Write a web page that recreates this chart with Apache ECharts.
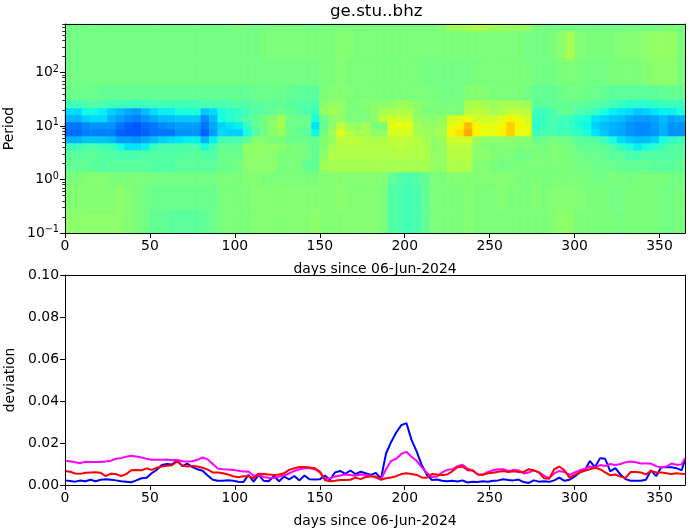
<!DOCTYPE html>
<html><head><meta charset="utf-8">
<style>html,body{margin:0;padding:0;background:#fff}#c{width:690px;height:531px}</style>
<script src="https://cdn.jsdelivr.net/npm/echarts@6/dist/echarts.min.js"></script>
</head><body><div id="c"></div>
<script>
const title = 'ge.stu..bhz';
const xName = 'days since 06-Jun-2024';
const xTicks = [0,50,100,150,200,250,300,350];
const periodLabels = [0.1,1,10,100];
const periodMinor = [0.2,0.3,0.4,0.5,0.6,0.7,0.8,0.9,2,3,4,5,6,7,8,9,20,30,40,50,60,70,80,90,200,300,400,500,600,700,800];
const colEdges = [0,5,10,15,20,25,30,35,40,45,50,55,60,65,70,75,80,85,90,95,100,105,110,115,120,125,130,135,140,145,150,155,160,165,170,175,180,185,190,195,200,205,210,215,220,225,230,235,240,245,250,255,260,265,270,275,280,285,290,295,300,305,310,315,320,325,330,335,340,345,350,355,360,365];
const periodEdges = [0.1,0.27,0.79,1.38,2.31,3.56,4.81,6.5,8.79,11.9,16.1,21.7,30.6,58.3,171,597,806];
const r00 = [49,49,49,49,49,49,49,49,49,49, 49,49,49,49,49,49,49,49,49,49, 50,49,49,49,50,50,50,50,49,49, 50,50,50,50,50,50,50,50,50,50, 50,50,50,50,51,54,54,55,56,55, 54,54,53,53,53,50,49,49,49,49, 49,49,49,49,49,49,49,49,49,49, 50,50,49];
const r01 = [49,49,49,49,49,49,49,49,49,49, 49,49,49,49,49,49,49,49,49,49, 49,49,49,50,50,50,50,50,50,50, 50,50,51,51,50,50,50,50,50,50, 50,50,50,50,50,50,50,50,50,50, 50,50,50,50,49,49,49,50,52,55, 51,50,50,50,50,51,51,51,52,53, 53,53,50];
const r02 = [49,49,49,49,49,49,49,49,49,49, 49,49,49,49,49,49,49,49,49,49, 49,49,49,49,49,49,49,49,49,49, 50,50,51,50,50,50,50,50,50,50, 50,50,49,49,49,49,49,49,50,50, 50,50,50,50,50,49,49,49,50,50, 50,49,49,49,50,50,50,50,51,52, 52,52,50];
const r03 = [48,48,48,48,47,47,47,47,47,47, 47,47,47,47,47,47,47,47,47,47, 47,47,48,48,48,48,47,46,46,46, 50,51,51,51,50,50,50,50,50,50, 50,50,50,50,49,49,49,51,51,51, 50,50,50,50,49,47,47,47,48,49, 49,48,48,47,46,46,46,46,46,46, 47,47,47];
const r04 = [43,43,44,45,44,43,43,42,42,42, 43,43,43,43,43,43,44,44,44,44, 45,45,46,46,46,47,46,45,45,44, 52,53,53,50,50,51,52,52,52,54, 54,52,51,50,50,50,50,55,56,55, 54,55,55,55,54,46,46,47,47,47, 47,46,45,44,43,41,40,40,40,41, 42,42,42];
const r05 = [34,34,37,37,36,33,31,29,28,31, 34,36,36,38,38,38,32,34,38,40, 41,43,45,46,47,48,47,46,44,42, 53,55,53,50,50,50,52,55,56,56, 56,52,50,50,50,50,50,57,58,57, 55,56,58,58,58,42,42,44,47,47, 44,43,42,38,36,35,34,32,33,35, 36,36,38];
const r06 = [30,30,33,34,34,30,28,26,25,27, 29,31,31,32,32,32,26,31,38,40, 42,45,47,49,51,55,49,48,48,38, 48,52,53,50,50,50,52,59,60,60, 59,53,52,52,53,61,62,64,60,60, 60,62,65,63,61,41,42,44,43,42, 40,38,35,33,32,31,29,28,28,29, 31,29,30];
const r07 = [24,24,26,27,27,27,24,22,21,23, 24,26,27,28,28,28,24,29,33,35, 36,41,47,49,52,55,48,48,48,35, 47,52,58,54,53,55,50,50,63,63, 63,55,53,53,54,63,65,71,65,63, 63,65,69,65,63,40,42,44,42,42, 38,37,33,31,30,29,27,26,26,28, 30,27,27];
const r08 = [23,23,25,25,25,25,22,21,21,22, 24,24,24,27,27,27,22,28,34,33, 33,38,45,49,52,53,49,47,46,37, 49,54,62,57,55,55,52,52,61,61, 61,55,54,54,55,65,67,73,65,63, 63,65,69,63,63,42,44,44,43,43, 41,38,35,32,30,29,27,26,26,27, 30,27,27];
const r09 = [30,30,32,32,32,31,28,28,27,29, 31,33,34,35,36,36,30,36,43,44, 44,46,51,51,50,50,48,48,48,47, 51,53,58,58,58,56,56,56,58,58, 58,57,55,52,54,60,60,60,54,52, 52,52,52,51,51,48,48,50,49,48, 46,46,45,42,38,34,32,31,31,33, 38,41,42];
const r10 = [42,42,44,44,43,42,38,35,35,36, 42,44,44,44,44,44,38,43,47,47, 47,53,53,52,52,52,50,50,49,47, 51,55,57,57,57,57,57,57,57,58, 57,57,56,52,53,58,58,58,52,51, 50,51,51,50,51,50,49,51,50,49, 47,47,47,46,44,41,38,36,38,40, 43,45,45];
const r11 = [46,46,46,46,45,45,44,44,44,45, 45,45,45,45,46,46,45,45,48,48, 48,52,52,52,52,50,50,50,49,47, 52,56,56,56,56,56,56,56,56,56, 56,56,56,53,53,57,57,57,52,52, 51,50,50,49,49,50,50,50,50,50, 49,48,48,47,46,46,44,44,45,45, 45,45,46];
const r12 = [47,47,47,46,45,46,46,46,46,46, 45,45,45,46,46,46,46,46,48,48, 49,52,52,52,52,50,50,50,47,47, 54,55,55,55,55,55,55,55,55,55, 55,55,55,53,53,56,56,56,51,51, 50,49,50,50,50,50,50,50,50,50, 49,49,48,48,48,47,47,47,47,46, 46,46,47];
const r13 = [50,50,51,51,51,50,50,50,50,50, 49,49,49,49,49,49,49,49,50,50, 50,51,51,50,50,50,50,50,50,50, 51,51,51,51,51,51,51,51,47,45, 44,45,47,50,50,51,51,51,51,51, 51,51,51,50,50,50,50,50,50,50, 50,50,49,49,50,50,49,50,50,50, 50,49,49];
const r14 = [51,51,51,51,51,51,52,51,50,49, 48,48,48,48,48,48,48,48,50,50, 50,50,51,51,51,51,51,51,51,51, 51,51,52,51,51,51,51,50,45,44, 43,44,47,50,50,50,50,51,50,50, 50,51,50,50,50,51,50,51,51,51, 51,50,50,50,49,49,50,50,50,50, 49,49,50];
const r15 = [52,52,52,52,52,52,52,51,50,49, 47,47,46,46,46,46,47,48,50,50, 50,50,51,51,51,51,51,51,51,52, 51,51,51,51,51,51,51,50,45,44, 43,44,47,50,50,50,50,51,50,50, 50,50,50,50,50,50,50,51,52,52, 50,50,50,50,50,49,50,50,50,50, 49,49,50];
const heatRows = [r15,r14,r13,r12,r11,r10,r09,r08,r07,r06,r05,r04,r03,r02,r01,r00];
const days = [0,3,6,9,12,15,18,21,24,27,30,33,36,39,42,45,48,51,54,57,60,63,66,69,72,75,78,81,84,87,90,93,96,99,102,105,108,111,114,117,120,123,126,129,132,135,138,141,144,147,150,153,156,159,162,165,168,171,174,177,180,183,186,189,192,195,198,201,204,207,210,213,216,219,222,225,228,231,234,237,240,243,246,249,252,255,258,261,264,267,270,273,276,279,282,285,288,291,294,297,300,303,306,309,312,315,318,321,324,327,330,333,336,339,342,345,348,351,354,357,360,363,365];
const blueDev = [.0022,.0019,.0016,.0021,.0018,.0025,.0018,.0025,.0027,.0025,.0022,.0018,.0016,.0013,.0022,.0032,.0035,.0056,.0072,.0095,.0100,.0098,.0118,.0090,.0102,.0085,.0075,.0068,.0045,.0025,.0020,.0020,.0023,.0020,.0016,.0014,.0048,.0016,.0048,.0020,.0018,.0043,.0018,.0040,.0027,.0043,.0022,.0045,.0027,.0026,.0027,.0045,.0025,.0060,.0067,.0053,.0069,.0052,.0063,.0056,.0048,.0058,.0030,.0150,.0205,.0250,.0285,.0295,.0215,.0160,.0095,.0050,.0024,.0026,.0020,.0018,.0020,.0017,.0022,.0012,.0016,.0014,.0018,.0015,.0020,.0022,.0027,.0024,.0022,.0026,.0014,.0010,.0022,.0016,.0018,.0015,.0022,.0035,.0020,.0025,.0040,.0060,.0070,.0115,.0085,.0128,.0125,.0065,.0080,.0050,.0028,.0020,.0020,.0020,.0025,.0070,.0042,.0085,.0085,.0085,.0080,.0070,.0118];
const magentaDev = [.0115,.0113,.0108,.0104,.0111,.0110,.0109,.0109,.0112,.0116,.0125,.0128,.0135,.0139,.0136,.0131,.0125,.0120,.0120,.0120,.0121,.0118,.0120,.0113,.0112,.0113,.0120,.0131,.0122,.0100,.0078,.0075,.0074,.0072,.0068,.0064,.0064,.0044,.0050,.0038,.0034,.0033,.0040,.0046,.0055,.0067,.0075,.0080,.0080,.0075,.0060,.0030,.0032,.0040,.0045,.0050,.0048,.0044,.0050,.0047,.0044,.0035,.0026,.0075,.0115,.0125,.0148,.0158,.0135,.0115,.0085,.0058,.0038,.0040,.0060,.0072,.0075,.0090,.0096,.0078,.0070,.0050,.0050,.0062,.0070,.0075,.0075,.0067,.0072,.0070,.0055,.0060,.0070,.0060,.0045,.0033,.0055,.0067,.0062,.0048,.0060,.0070,.0078,.0088,.0083,.0095,.0090,.0100,.0095,.0100,.0108,.0112,.0108,.0102,.0102,.0102,.0090,.0083,.0088,.0102,.0096,.0098,.0128];
const redDev = [.0067,.0063,.0055,.0053,.0058,.0060,.0061,.0058,.0042,.0054,.0052,.0043,.0052,.0070,.0072,.0070,.0079,.0072,.0082,.0088,.0092,.0094,.0112,.0093,.0088,.0090,.0088,.0082,.0073,.0060,.0060,.0056,.0050,.0042,.0037,.0042,.0042,.0032,.0054,.0052,.0050,.0048,.0050,.0056,.0072,.0080,.0086,.0086,.0083,.0080,.0064,.0024,.0018,.0020,.0024,.0024,.0025,.0035,.0028,.0038,.0040,.0040,.0025,.0032,.0036,.0042,.0052,.0056,.0052,.0048,.0036,.0035,.0052,.0050,.0047,.0050,.0065,.0085,.0088,.0070,.0069,.0050,.0048,.0056,.0058,.0063,.0067,.0062,.0065,.0062,.0062,.0075,.0070,.0060,.0032,.0030,.0075,.0088,.0070,.0035,.0048,.0060,.0068,.0075,.0082,.0075,.0060,.0046,.0050,.0040,.0034,.0062,.0062,.0060,.0050,.0067,.0060,.0059,.0056,.0052,.0056,.0053,.0052];

const FONT = 'DejaVu Sans', FS = 13.9;
function pw(t, pts){ for(let i=1;i<pts.length;i++){ if(t<=pts[i][0]){ const a=pts[i-1],b=pts[i]; return a[1]+(b[1]-a[1])*(t-a[0])/(b[0]-a[0]); } } return pts[pts.length-1][1]; }
function jet(t){
  const r=pw(t,[[0,0],[.35,0],[.66,1],[.89,1],[1,.5]]);
  const g=pw(t,[[0,0],[.125,0],[.375,1],[.64,1],[.91,0],[1,0]]);
  const b=pw(t,[[0,.5],[.11,1],[.34,1],[.65,0],[1,0]]);
  return 'rgb('+Math.round(r*255)+','+Math.round(g*255)+','+Math.round(b*255)+')';
}
const heatData = [];
heatRows.forEach((row,i)=>row.forEach((v,j)=>heatData.push([colEdges[j],colEdges[j+1],periodEdges[i],periodEdges[i+1],v])));
const pairs = a => days.map((d,i)=>[d,a[i]]);
const tickStyle = {show:true,length:4.9,lineStyle:{color:'#000',width:1}};
const line = {show:true,onZero:false,lineStyle:{color:'#000',width:1}};
const label = {color:'#000',fontFamily:FONT,fontSize:FS,margin:6};
const nameText = {color:'#000',fontFamily:FONT,fontSize:FS};
function supLabel(v){
  const e = Math.round(Math.log10(v));
  return '{b|10}{s|'+(e<0?'\u2212':'')+Math.abs(e)+'}';
}
const xMain = (g)=>({type:'value',gridIndex:g,min:0,max:365,position:'bottom',z:10,axisLine:line,
  axisTick:Object.assign({},tickStyle,{customValues:xTicks}),
  axisLabel:Object.assign({},label,{customValues:xTicks}),splitLine:{show:false},
  name:xName,nameLocation:'middle',nameGap:29,nameTextStyle:nameText});
const xTop = (g)=>({type:'value',gridIndex:g,min:0,max:365,position:'top',z:10,axisLine:line,axisTick:{show:false},axisLabel:{show:false},splitLine:{show:false}});
const option = {
  animation:false,backgroundColor:'#fff',
  title:{text:title,left:325,top:-2,textStyle:{color:'#000',fontFamily:FONT,fontSize:16.7,fontWeight:'normal'}},
  grid:[{left:65,top:24,width:620,height:209,outerBoundsMode:'none'},{left:65,top:275,width:620,height:210,outerBoundsMode:'none'}],
  xAxis:[xMain(0),xTop(0),xMain(1),xTop(1)],
  yAxis:[
    {type:'log',logBase:10,gridIndex:0,min:0.1,max:806,position:'left',z:10,axisLine:line,
     axisTick:Object.assign({},tickStyle,{customValues:periodLabels}),
     axisLabel:Object.assign({},label,{customValues:periodLabels,formatter:supLabel,
       rich:{b:{fontFamily:FONT,fontSize:FS,color:'#000'},s:{fontFamily:FONT,fontSize:9.7,color:'#000',padding:[0,0,7,0]}}}),
     splitLine:{show:false},minorTick:{show:false},name:'Period',nameLocation:'middle',nameGap:46,nameTextStyle:nameText},
    {type:'log',logBase:10,gridIndex:0,min:0.1,max:806,position:'left',z:10,axisLine:{show:false},
     axisTick:{show:true,length:2.8,customValues:periodMinor,lineStyle:{color:'#000',width:0.8}},
     axisLabel:{show:false},splitLine:{show:false}},
    {type:'log',logBase:10,gridIndex:0,min:0.1,max:806,position:'right',z:10,axisLine:line,axisTick:{show:false},axisLabel:{show:false},splitLine:{show:false}},
    {type:'value',gridIndex:1,min:0,max:0.1,interval:0.02,position:'left',z:10,axisLine:line,axisTick:tickStyle,
     axisLabel:Object.assign({},label,{formatter:v=>v.toFixed(2)}),splitLine:{show:false},
     name:'deviation',nameLocation:'middle',nameGap:43,nameTextStyle:nameText},
    {type:'value',gridIndex:1,min:0,max:0.1,position:'right',z:10,axisLine:line,axisTick:{show:false},axisLabel:{show:false},splitLine:{show:false}}
  ],
  series:[
    {type:'custom',xAxisIndex:0,yAxisIndex:0,z:2,data:heatData,encode:{x:[0,1],y:[2,3]},silent:true,
     renderItem:function(params,api){
       const a=api.coord([api.value(0),api.value(2)]), b=api.coord([api.value(1),api.value(3)]);
       const c=jet(api.value(4)/100);
       return {type:'rect',shape:{x:a[0],y:b[1],width:b[0]-a[0],height:a[1]-b[1]},style:{fill:c,stroke:c,lineWidth:0.6}};
     }},
    {type:'line',name:'blue',xAxisIndex:2,yAxisIndex:3,z:3,data:pairs(blueDev),showSymbol:false,symbol:'none',lineStyle:{color:'#0000ff',width:2}},
    {type:'line',name:'magenta',xAxisIndex:2,yAxisIndex:3,z:4,data:pairs(magentaDev),showSymbol:false,symbol:'none',lineStyle:{color:'#ff00ff',width:2}},
    {type:'line',name:'red',xAxisIndex:2,yAxisIndex:3,z:5,data:pairs(redDev),showSymbol:false,symbol:'none',lineStyle:{color:'#ff0000',width:2}}
  ]
};
echarts.init(document.getElementById('c'),null,{renderer:'canvas'}).setOption(option);
</script></body></html>
